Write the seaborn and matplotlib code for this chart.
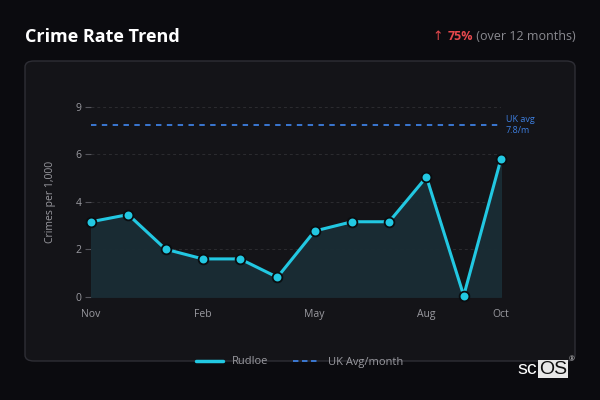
"""
Crime rate trend - dark card style
"""

import matplotlib
matplotlib.use('Agg')
import matplotlib.pyplot as plt
from matplotlib.patches import FancyBboxPatch
from matplotlib.lines import Line2D
import seaborn as sns
import numpy as np
import pandas as pd

# Datos
months = ['Nov', 'Dec', 'Jan', 'Feb', 'Mar', 'Apr', 'May', 'Jun', 'Jul', 'Aug', 'Sep', 'Oct']
crime_rate = [3.55, 3.89, 2.25, 1.79, 1.79, 0.92, 3.11, 3.55, 3.55, 5.67, 0.05, 6.53]
tick_months = ['Nov', 'Feb', 'May', 'Aug', 'Oct']
y_ticks = [0, 2.25, 4.5, 6.75, 9]
y_tick_labels = ['0', '2', '4', '6', '9']
uk_avg_level = 8.15
uk_avg_text = 'UK avg\n7.8/m'
change_pct = '75%'
area_name = 'Rudloe'

BG = '#0b0b0f'
PANEL = '#141418'
CYAN = '#22c8e2'
BLUE = '#3d7fe0'
GRAY = '#9a9aa0'

sns.set_theme(style='dark')
plt.rcParams['font.family'] = ['Open Sans', 'DejaVu Sans']

df = pd.DataFrame({'idx': np.arange(len(months)), 'month': months, 'rate': crime_rate})

fig = plt.figure(figsize=(6, 4), dpi=100)
fig.patch.set_facecolor(BG)

# Tarjeta
panel = FancyBboxPatch((25 / 600, 39 / 400), 550 / 600, 300 / 400,
                       boxstyle='round,pad=0,rounding_size=0.015',
                       transform=fig.transFigure, facecolor=PANEL,
                       edgecolor='#2e2e35', linewidth=1, zorder=-5)
fig.patches.append(panel)

ax = fig.add_axes([91 / 600, 103.3 / 400, 410 / 600, 190 / 400])
ax.set_facecolor('none')
ax.set_zorder(2)

ax.fill_between(df['idx'], df['rate'], 0, color='#1a2d35', alpha=0.95, zorder=1)
sns.lineplot(data=df, x='idx', y='rate', ax=ax, color=CYAN, linewidth=2.2,
             marker='o', markersize=7, markeredgecolor='#0a0d10',
             markeredgewidth=1.3, zorder=3, clip_on=False)
ax.axhline(uk_avg_level, color=BLUE, linestyle=(0, (3, 3)), linewidth=1.3, zorder=2)
ax.text(len(months) - 1 + 0.13, uk_avg_level, uk_avg_text, color=BLUE, fontsize=6.5,
        va='center', ha='left', linespacing=1.3)

ax.set_xlim(0, len(months) - 1)
ax.set_ylim(0, 9)
ax.set_xticks([months.index(m) for m in tick_months])
ax.set_xticklabels(tick_months)
ax.set_yticks(y_ticks)
ax.set_yticklabels(y_tick_labels)
ax.tick_params(axis='x', colors=GRAY, labelsize=7.5, length=0, pad=9)
ax.tick_params(axis='y', colors=GRAY, labelsize=7.5, length=4, width=0.8,
               left=True, pad=3, color='#55555c')
for lbl in ax.get_xticklabels() + ax.get_yticklabels():
    lbl.set_color(GRAY)
ax.yaxis.grid(True, color='#2c2c30', linestyle=(0, (3, 3)), linewidth=0.7)
ax.xaxis.grid(False)
for s in ax.spines.values():
    s.set_visible(False)
ax.set_xlabel('')
ax.set_ylabel('Crimes per 1,000', color=GRAY, fontsize=7.5, labelpad=14)

# Titulo
fig.text(25 / 600, 1 - 37 / 400, 'Crime Rate Trend', color='white', fontsize=13,
         fontweight='bold', va='center', ha='left')

renderer = fig.canvas.get_renderer()
t3 = fig.text(576 / 600, 1 - 37 / 400, ' (over 12 months)', color='#8a8a90',
              fontsize=9, va='center', ha='right')
bb = t3.get_window_extent(renderer)
x_left = bb.x0 / fig.bbox.width
t2 = fig.text(x_left, 1 - 37 / 400, change_pct, color='#e5484d', fontsize=9,
              fontweight='bold', va='center', ha='right')
bb2 = t2.get_window_extent(renderer)
fig.text(bb2.x0 / fig.bbox.width - 0.008, 1 - 37 / 400, '\u2191', color='#e5484d',
         fontsize=9, va='center', ha='right', family=['DejaVu Sans'])

# Leyenda
handles = [Line2D([0], [0], color=CYAN, linewidth=2.5),
           Line2D([0], [0], color=BLUE, linewidth=1.3, linestyle=(0, (3, 2)))]
leg = fig.legend(handles, [area_name, 'UK Avg/month'], loc='center',
                 bbox_to_anchor=(300 / 600, 1 - 362 / 400), ncol=2, frameon=False,
                 fontsize=8, handlelength=2.4, columnspacing=2.2, handletextpad=0.8)
for t in leg.get_texts():
    t.set_color(GRAY)

# Logo
fig.text(537 / 600, 1 - 369 / 400, 'sc', color='white', fontsize=14,
         va='center', ha='right', family=['Liberation Sans', 'DejaVu Sans'])
fig.text(539 / 600, 1 - 369 / 400, 'OS', color='#111111', fontsize=14,
         va='center', ha='left', family=['Liberation Sans', 'DejaVu Sans'],
         bbox=dict(facecolor='#e8e8e8', edgecolor='none', pad=0.5))
fig.text(572 / 600, 1 - 360 / 400, '\u00ae', color='#cccccc', fontsize=5,
         va='center', ha='center')

fig.savefig('out.png', dpi=100, facecolor=BG)
